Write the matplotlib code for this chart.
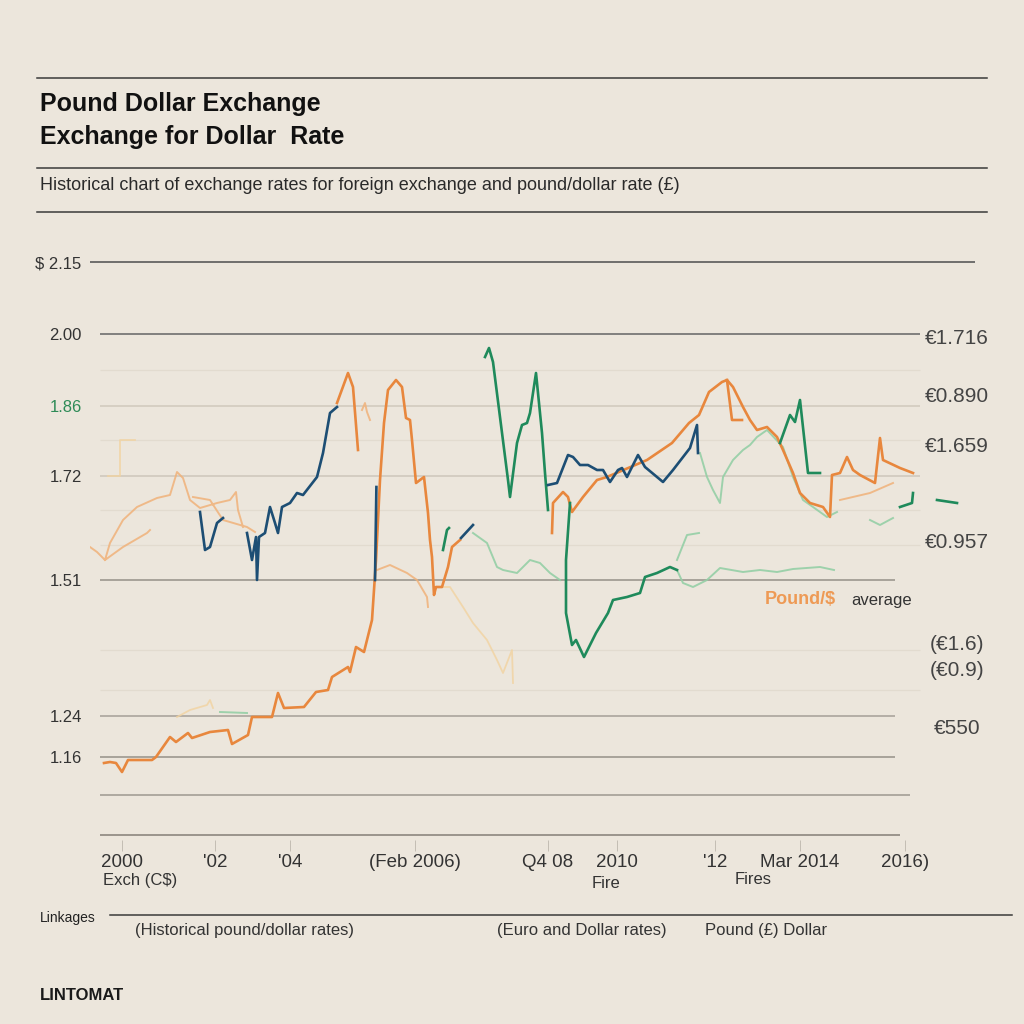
import numpy as np
import matplotlib
matplotlib.use("Agg")
import matplotlib.pyplot as plt
from matplotlib import font_manager

# x = months since Jan 2000, y = pound / dollar rate
nan = np.nan

orange_x = [-4, -2.5, -1, 0.5, 2, 8, 9, 12.5, 14, 17, 18, 22.5, 27, 28, 32, 33, 38, 39.5, 41, 46,
            49, 52, 53, 57, 57.5, 59, 61, 63, 64, 65, 66, 67, 69, 70.5, 71.5, 72.5, 73, 74, 76, 77,
            77.5, 78, 78.5, 79, 80.5, 82, 83, 85, nan,
            108, 108.25, 110.75, 112, 113, 115.75, 119.25, 121.75, 131.75, 138, 142.25, 144.75,
            147.25, 150.5, 151.75, 153.25, 155.75, 157.5, 159.25, 161.75, 164.25, 165.75, 168.25,
            170, 172.5, 175.75, 177.5, 178, 180, 181.75, 183.25, 185, 188.75, 190, 190.75, 195, 198.25]
orange_y = [1.144, 1.146, 1.144, 1.126, 1.150, 1.150, 1.156, 1.196, 1.186, 1.204, 1.194, 1.206, 1.210,
            1.182, 1.200, 1.236, 1.236, 1.284, 1.254, 1.256, 1.286, 1.290, 1.316, 1.336, 1.326, 1.376,
            1.366, 1.430, 1.550, 1.710, 1.824, 1.890, 1.910, 1.896, 1.834, 1.830, 1.790, 1.704, 1.716,
            1.644, 1.590, 1.556, 1.480, 1.496, 1.496, 1.536, 1.576, 1.590, nan,
            1.604, 1.664, 1.686, 1.676, 1.646, 1.676, 1.710, 1.716, 1.750, 1.784, 1.824, 1.840,
            1.886, 1.906, 1.910, 1.896, 1.856, 1.830, 1.810, 1.816, 1.796, 1.770, 1.724,
            1.684, 1.664, 1.656, 1.636, 1.720, 1.724, 1.756, 1.730, 1.720, 1.704, 1.794, 1.750, 1.734, 1.724]

orange_peak_x = [54.25, 57, 58.25, 59.5, nan, 151.75, 153, 155.5]
orange_peak_y = [1.864, 1.924, 1.896, 1.770, nan, 1.910, 1.830, 1.830]

navy_x = [20, 21.25, 22.5, 24.25, 25.75, nan,
          31.75, 33, 34, 34.25, 34.75, 36.25, 37.5, 38.75, 39.5, 40.5, 42.5, 44.25, 45.75, 49.25,
          50.75, 52.5, 54.25, nan, 64.1, 63.75, nan, 85.25, 88.25, nan,
          107, 109.25, 112, 113.25, 115, 117, 119.25, 120.75, 122.5, 124.5, 125.5, 126.75, 128,
          129.5, 131.25, 135.75, 138.25, 142.5, 144.25, 144.5]
navy_y = [1.646, 1.570, 1.576, 1.624, 1.634, nan,
          1.604, 1.550, 1.596, 1.510, 1.596, 1.604, 1.656, 1.624, 1.604, 1.656, 1.664, 1.684, 1.680,
          1.716, 1.764, 1.844, 1.856, nan, 1.696, 1.510, nan, 1.594, 1.620, nan,
          1.700, 1.704, 1.760, 1.756, 1.740, 1.740, 1.730, 1.730, 1.706, 1.730, 1.734, 1.716, 1.736,
          1.760, 1.736, 1.706, 1.730, 1.774, 1.820, 1.764]

green_x = [80.75, 81.75, 82.25, nan,
           91.25, 92.25, 93.25, 97, 97.5, 99.25, 100.5, 101.75, 102.5, 104, 105.5, 106.25, 107, nan,
           112.5, 111.5, 111.5, 113, 114, 116, 119, 122, 123.25, 126.75, 130, 131.25, 134.25, 137.5,
           139.25, nan, 165, 167.5, 168.75, 170, 172, 175, nan, 195, 198, 198.25, nan, 204.25, 209.25]
green_y = [1.570, 1.610, 1.614, nan,
           1.956, 1.974, 1.946, 1.710, 1.676, 1.784, 1.820, 1.824, 1.844, 1.924, 1.804, 1.724, 1.650, nan,
           1.664, 1.550, 1.444, 1.380, 1.390, 1.356, 1.404, 1.444, 1.470, 1.476, 1.484, 1.516, 1.524,
           1.536, 1.530, nan, 1.784, 1.840, 1.826, 1.870, 1.724, 1.724, nan, 1.656, 1.664, 1.684, nan,
           1.670, 1.664]

lightgreen_x = [88.25, 91.75, 94.25, 95.75, 99.25, 102.5, 105, 107.5, 110, nan,
                139.25, 140.75, 143.25, 146.75, 150, 155.75, 160, 164.25, 168.25, 175, 178.5, nan,
                139.25, 141.75, 144.75, nan,
                145, 146.75, 148.25, 150, 150.75, 153.25, 155.75, 157.5, 159.25, 161.75, 165.75,
                168.25, 170.75, 173.25, 176.75, 179.25, nan, 187.5, 190, 193.25, nan, 25, 31.75]
lightgreen_y = [1.604, 1.584, 1.536, 1.530, 1.524, 1.550, 1.544, 1.524, 1.510, nan,
                1.530, 1.504, 1.496, 1.510, 1.534, 1.526, 1.530, 1.526, 1.532, 1.536, 1.530, nan,
                1.550, 1.600, 1.604, nan,
                1.764, 1.716, 1.690, 1.664, 1.716, 1.750, 1.770, 1.780, 1.796, 1.810, 1.776,
                1.716, 1.670, 1.656, 1.636, 1.646, nan, 1.630, 1.620, 1.634, nan, 1.246, 1.244]

lightorange_x = [-7.5, -5.75, -3.75, -2.5, 0.75, 4.25, 9.25, 12.5, 14.25, 15.75, 17.5, 20, 24.25,
                 27.5, 29, 29.5, 30.75, nan, -3.75, 0.75, 6.75, 7.5, nan,
                 18.25, 22.5, 25.75, 31.75, 33.75, nan, 60.5, 61.25, 61.75, 62.5, nan,
                 64.25, 67.5, 71.75, 74.25, 76.75, 77, nan, 180, 187.5, 193.25]
lightorange_y = [1.576, 1.566, 1.550, 1.584, 1.630, 1.656, 1.674, 1.680, 1.726, 1.714, 1.670, 1.654,
                 1.664, 1.670, 1.686, 1.650, 1.616, nan, 1.550, 1.576, 1.604, 1.610, nan,
                 1.676, 1.670, 1.630, 1.616, 1.606, nan, 1.850, 1.864, 1.846, 1.830, nan,
                 1.530, 1.540, 1.524, 1.510, 1.476, 1.456, nan, 1.670, 1.684, 1.704]

pale_x = [79.25, 82.5, 85.75, 88.25, 91.75, 94.25, 95.75, 98, 98.25, nan,
          14.25, 17.5, 21.75, 22.5, 23.25, nan, -3, 0, 0, 3.75]
pale_y = [1.496, 1.496, 1.456, 1.424, 1.390, 1.350, 1.324, 1.370, 1.304, nan,
          1.236, 1.250, 1.260, 1.270, 1.254, nan, 1.718, 1.718, 1.790, 1.790]

# horizontal rules inside the plot: level, end (months)
grid_levels = [2.146, 2.002, 1.858, 1.718, 1.510, 1.238, 1.156, 1.080, 1.000]
grid_ends = [213.75, 200, 200, 200, 193.75, 193.75, 193.75, 197.5, 195]
grid_colors = ['#5a5a5a', '#6e6e6e', '#d2cbbf', '#d0c9bd', '#9c978f', '#aaa59d', '#9c978f', '#a39e96', '#8c877f']
faint_levels = [1.930, 1.790, 1.650, 1.580, 1.370, 1.290]

left_labels = ['$ 2.15', '2.00', '1.86', '1.72', '1.51', '1.24', '1.16']
right_levels = [1.994, 1.878, 1.776, 1.586, 1.380, 1.330, 1.214]
right_labels = ['€1.716', '€0.890', '€1.659', '€0.957', '(€1.6)', '(€0.9)', '€550']

xtick_pos = [0.5, 23.75, 42.5, 73.75, 107, 124.25, 148.75, 170, 196.25]
xtick_labels = ['2000', "'02", "'04", '(Feb 2006)', 'Q4 08', '2010', "'12", 'Mar 2014', '2016)']

bg = '#ece6dc'
names = {f.name for f in font_manager.fontManager.ttflist}
narrow = ['Liberation Sans Narrow', 'DejaVu Sans'] if 'Liberation Sans Narrow' in names else ['Liberation Sans', 'DejaVu Sans']

fig = plt.figure(figsize=(10.24, 10.24), dpi=100, facecolor=bg)
ax = fig.add_axes([90/1024, 1 - 840/1024, 900/1024, 590/1024])
ax.set_facecolor(bg)
ax.set_xlim(-7.5, 217.5)
ax.set_ylim(0.99, 2.17)
for s in ax.spines.values():
    s.set_visible(False)

for lv in faint_levels:
    ax.hlines(lv, -5, 200, color='#e2dbcf', lw=0.9, zorder=1)
for lv, end, c in zip(grid_levels, grid_ends, grid_colors):
    start = -7.5 if lv > 2.1 else -5
    ax.hlines(lv, start, end, color=c, lw=1.2, zorder=1)

ax.plot(pale_x, pale_y, color='#f2d3a0', lw=1.3, alpha=0.8, zorder=2)
ax.plot(lightorange_x, lightorange_y, color='#f0b27a', lw=1.4, alpha=0.85, zorder=2)
ax.plot(lightgreen_x, lightgreen_y, color='#95cfa6', lw=1.4, alpha=0.9, zorder=2)
ax.plot(orange_x, orange_y, color='#e8873d', lw=1.9, zorder=3)
ax.plot(orange_peak_x, orange_peak_y, color='#e8873d', lw=1.9, zorder=3)
ax.plot(green_x, green_y, color='#1f8a5b', lw=1.9, zorder=4)
ax.plot(navy_x, navy_y, color='#1d4e74', lw=1.9, zorder=4)

ax.set_yticks(grid_levels[:7], left_labels)
ax.tick_params(axis='y', length=0, pad=6, labelsize=12, labelcolor='#333333')
for lab in ax.get_yticklabels():
    lab.set_fontfamily(narrow)
ax.get_yticklabels()[2].set_color('#2e8b57')

ax.set_xticks(xtick_pos, xtick_labels)
ax.tick_params(axis='x', length=8, width=0.6, color='#bdb7ad', pad=2, labelsize=13.5, labelcolor='#333333')
for lab in ax.get_xticklabels():
    lab.set_fontfamily(narrow)

for lv, txt in zip(right_levels, right_labels):
    ax.text(209.25, lv, txt, ha='center', va='center', fontsize=15, color='#444444',
            family=narrow, clip_on=False)

ax.text(170, 1.470, 'Pound/$', ha='center', va='center', fontsize=13, color='#ee9a55',
        fontweight='bold', family=narrow)
ax.text(190.5, 1.470, 'average', ha='center', va='center', fontsize=12, color='#333333', family=narrow)


def rule(y, x0=37, x1=987, c='#3a3a3a', lw=1.1):
    fig.add_artist(plt.Line2D([x0/1024, x1/1024], [1 - y/1024, 1 - y/1024], color=c, lw=lw))


rule(78)
rule(168)
rule(212)
rule(915, 110, 1012)

fig.text(40/1024, 1 - 104/1024, 'Pound Dollar Exchange', fontsize=18, fontweight='bold',
         color='#111111', va='center', family=narrow)
fig.text(40/1024, 1 - 137/1024, 'Exchange for Dollar  Rate', fontsize=18, fontweight='bold',
         color='#111111', va='center', family=narrow)
fig.text(40/1024, 1 - 185/1024,
         'Historical chart of exchange rates for foreign exchange and pound/dollar rate (£)',
         fontsize=13, color='#2a2a2a', va='center', family=narrow)

fig.text(103/1024, 1 - 881/1024, 'Exch (C$)', fontsize=12, color='#333333', va='center', family=narrow)
fig.text(592/1024, 1 - 883/1024, 'Fire', fontsize=12, color='#333333', va='center', family=narrow)
fig.text(735/1024, 1 - 879/1024, 'Fires', fontsize=12, color='#333333', va='center', family=narrow)

fig.text(40/1024, 1 - 918/1024, 'Linkages', fontsize=10, color='#222222', va='center', family=narrow)
fig.text(135/1024, 1 - 930/1024, '(Historical pound/dollar rates)', fontsize=12, color='#333333',
         va='center', family=narrow)
fig.text(497/1024, 1 - 930/1024, '(Euro and Dollar rates)', fontsize=12, color='#333333',
         va='center', family=narrow)
fig.text(705/1024, 1 - 930/1024, 'Pound (£) Dollar', fontsize=12, color='#333333',
         va='center', family=narrow)
fig.text(40/1024, 1 - 995/1024, 'LINTOMAT', fontsize=12, fontweight='bold', color='#1a1a1a',
         va='center', family=narrow)

fig.savefig('out.png', dpi=100, facecolor=bg)
